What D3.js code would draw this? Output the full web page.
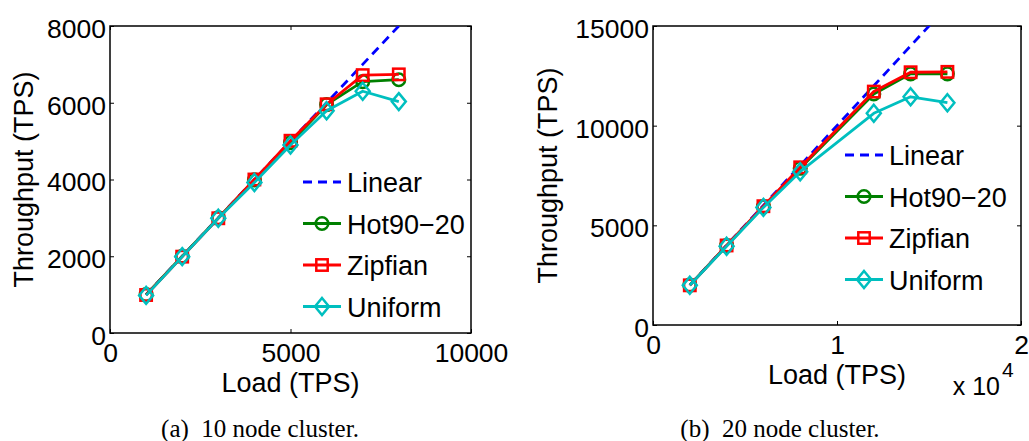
<!DOCTYPE html>
<html>
<head>
<meta charset="utf-8">
<script src="https://cdn.jsdelivr.net/npm/d3@7"></script>
<style>
	html, body { margin: 0; padding: 0; background: #fff; }
	svg { display: block; }
	text { font-family: "Liberation Sans", Arial, Helvetica, sans-serif; fill: #000; }
	.caption { font-family: "Liberation Serif", "Times New Roman", serif; }
</style>
</head>
<body>
<svg id="chart" width="1029" height="441"></svg>
<script>
// ---- data ----
const series = ["Linear", "Hot90\u221220", "Zipfian", "Uniform"];

// (a) 10 node cluster
const loadA    = [1000, 2000, 3000, 4000, 5000, 6000, 7000, 8000];
const linearA  = [1000, 2000, 3000, 4000, 5000, 6000, 7000, 8000];
const hotA     = [1000, 2000, 3000, 3990, 4960, 5950, 6550, 6600];
const zipfA    = [990, 1990, 2990, 4000, 5010, 5960, 6720, 6740];
const uniformA = [980, 1990, 2990, 3920, 4900, 5790, 6300, 6030];

// (b) 20 node cluster
const loadB    = [2000, 4000, 6000, 8000, 12000, 14000, 16000];
const linearB  = [2000, 4000, 6000, 8000, 12000, 14000, 16000];
const hotB     = [2000, 3980, 5940, 7860, 11590, 12600, 12600];
const zipfB    = [1990, 3990, 5960, 7910, 11710, 12680, 12700];
const uniformB = [1990, 3950, 5900, 7690, 10620, 11450, 11150];

const xTicksA = [0, 5000, 10000];
const yTicksA = [0, 2000, 4000, 6000, 8000];
const xTicksB = [0, 10000, 20000];
const yTicksB = [0, 5000, 10000, 15000];

const styles = [
	{ color: "#0000ff", dash: "9,6", marker: null },
	{ color: "#008000", dash: null, marker: "circle" },
	{ color: "#ff0000", dash: null, marker: "square" },
	{ color: "#00bfbf", dash: null, marker: "diamond" }
];

const panels = [
	{
		id: "a", load: loadA, values: [linearA, hotA, zipfA, uniformA],
		xMax: 10000, yMax: 8000, xTicks: xTicksA, yTicks: yTicksA,
		left: 110, right: 471, top: 26, bottom: 333,
		legendX: 303, legendY: 182,
		xFormat: d => String(d), caption: "(a)\u00a0\u00a010 node cluster.", captionX: 260,
		yLabelX: 33
	},
	{
		id: "b", load: loadB, values: [linearB, hotB, zipfB, uniformB],
		xMax: 20000, yMax: 15000, xTicks: xTicksB, yTicks: yTicksB,
		left: 653, right: 1021, top: 26, bottom: 325,
		legendX: 845, legendY: 155,
		xFormat: d => String(d / 10000), caption: "(b)\u00a0\u00a020 node cluster.", captionX: 780,
		yLabelX: 557, exponent: true
	}
];

const svg = d3.select("#chart");
const FONT = 26.5;

function drawMarker(g, type, x, y, color) {
	if (type === "circle") {
		g.append("circle").attr("cx", x).attr("cy", y).attr("r", 6.3)
			.attr("fill", "none").attr("stroke", color).attr("stroke-width", 2.5);
	} else if (type === "square") {
		g.append("rect").attr("x", x - 5.7).attr("y", y - 5.7).attr("width", 11.4).attr("height", 11.4)
			.attr("fill", "none").attr("stroke", color).attr("stroke-width", 2.5);
	} else if (type === "diamond") {
		g.append("path")
			.attr("d", `M${x},${y - 8.5}L${x + 7},${y}L${x},${y + 8.5}L${x - 7},${y}Z`)
			.attr("fill", "none").attr("stroke", color).attr("stroke-width", 2.5);
	}
}

panels.forEach(p => {
	const x = d3.scaleLinear([0, p.xMax], [p.left, p.right]);
	const y = d3.scaleLinear([0, p.yMax], [p.bottom, p.top]);
	const g = svg.append("g");

	g.append("clipPath").attr("id", "clip-" + p.id)
		.append("rect").attr("x", p.left).attr("y", p.top)
		.attr("width", p.right - p.left).attr("height", p.bottom - p.top);

	// axes with inward ticks on all four sides
	const style = sel => {
		sel.select(".domain").remove();
		sel.selectAll(".tick line").attr("stroke", "#000").attr("stroke-width", 1);
		sel.selectAll("text").style("font-size", FONT + "px").attr("fill", "#000");
	};
	g.append("g").attr("transform", `translate(0,${p.bottom})`)
		.call(d3.axisBottom(x).tickValues(p.xTicks).tickFormat(p.xFormat).tickSize(-4).tickPadding(10))
		.call(style).attr("font-family", null);
	g.append("g").attr("transform", `translate(0,${p.top})`)
		.call(d3.axisTop(x).tickValues(p.xTicks).tickFormat("").tickSize(-4))
		.call(style);
	g.append("g").attr("transform", `translate(${p.left},0)`)
		.call(d3.axisLeft(y).tickValues(p.yTicks).tickFormat(d => String(d)).tickSize(-4).tickPadding(4))
		.call(style).attr("font-family", null)
		.call(a => a.selectAll("text").attr("dy", "0.43em"));
	g.append("g").attr("transform", `translate(${p.right},0)`)
		.call(d3.axisRight(y).tickValues(p.yTicks).tickFormat("").tickSize(-4))
		.call(style);

	g.append("rect").attr("x", p.left).attr("y", p.top)
		.attr("width", p.right - p.left).attr("height", p.bottom - p.top)
		.attr("fill", "none").attr("stroke", "#000").attr("stroke-width", 1.5);

	// series
	const plot = g.append("g").attr("clip-path", `url(#clip-${p.id})`);
	const line = d3.line().x(d => x(d[0])).y(d => y(d[1]));
	p.values.forEach((vals, si) => {
		const s = styles[si];
		const pts = p.load.map((l, i) => [l, vals[i]]);
		plot.append("path").datum(pts).attr("d", line)
			.attr("fill", "none").attr("stroke", s.color).attr("stroke-width", 2.8)
			.attr("stroke-dasharray", s.dash).attr("stroke-linejoin", "round");
		if (s.marker) {
			const mg = plot.append("g");
			pts.forEach(d => drawMarker(mg, s.marker, x(d[0]), y(d[1]), s.color));
		}
	});

	// legend
	const lg = g.append("g");
	series.forEach((name, i) => {
		const s = styles[i];
		const cy = p.legendY + i * 41.5;
		lg.append("line").attr("x1", p.legendX).attr("x2", p.legendX + 38)
			.attr("y1", cy).attr("y2", cy)
			.attr("stroke", s.color).attr("stroke-width", 2.8).attr("stroke-dasharray", s.dash);
		if (s.marker) drawMarker(lg, s.marker, p.legendX + 19, cy, s.color);
		lg.append("text").attr("x", p.legendX + 44).attr("y", cy + 10)
			.style("font-size", "27px").text(name);
	});

	// axis labels
	g.append("text").attr("x", (p.left + p.right) / 2).attr("y", p.bottom + 59)
		.attr("text-anchor", "middle").style("font-size", "27px").text("Load (TPS)");
	g.append("text").attr("transform", `translate(${p.yLabelX},${(p.top + p.bottom) / 2}) rotate(-90)`)
		.attr("text-anchor", "middle").style("font-size", "27px").text("Throughput (TPS)");

	if (p.exponent) {
		g.append("text").attr("x", 1000).attr("y", 395)
			.attr("text-anchor", "end").style("font-size", "25px").text("x 10");
		g.append("text").attr("x", 1002).attr("y", 377)
			.style("font-size", "21px").text("4");
	}

	g.append("text").attr("class", "caption").attr("x", p.captionX).attr("y", 437)
		.attr("text-anchor", "middle").style("font-size", "25px").text(p.caption);
});
</script>
</body>
</html>
